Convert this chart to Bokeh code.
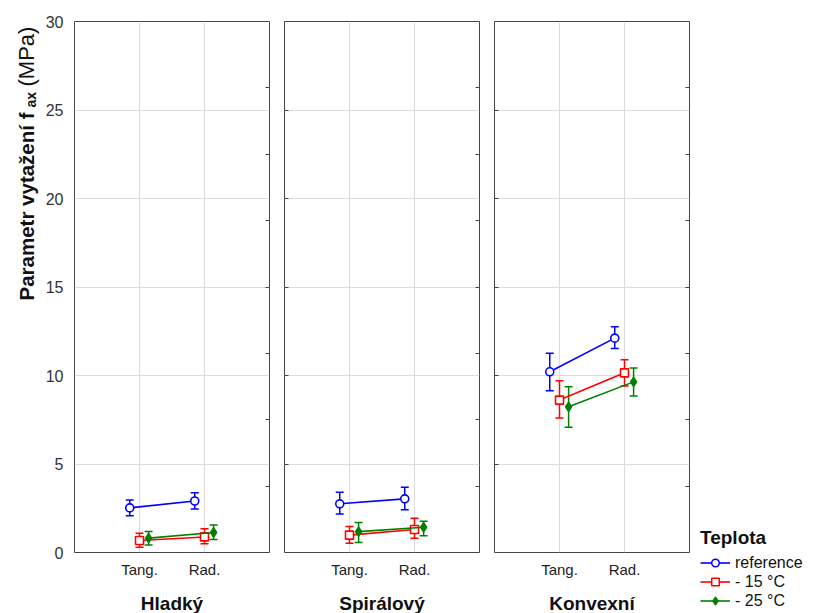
import math
from bokeh.plotting import figure
from bokeh.models import (FixedTicker, LinearAxis, Whisker, TeeHead, ColumnDataSource,
                          Label, Legend, LegendItem, Range1d)
from bokeh.layouts import row
from bokeh.embed import file_html
from bokeh.resources import INLINE

# ---------------- data ----------------
panels = ["Hladký", "Spirálový", "Konvexní"]
orient = ["Tang.", "Rad."]
series = ["reference", "- 15 °C", "- 25 °C"]

ref_mean = [[2.52, 2.91], [2.75, 3.03], [10.21, 12.11]]
ref_low = [[2.07, 2.46], [2.18, 2.41], [9.14, 11.52]]
ref_high = [[2.97, 3.37], [3.40, 3.68], [11.26, 12.76]]

m15_mean = [[0.68, 0.88], [0.98, 1.30], [8.61, 10.15]]
m15_low = [[0.30, 0.49], [0.52, 0.80], [7.60, 9.40]]
m15_high = [[1.09, 1.34], [1.47, 1.93], [9.70, 10.89]]

m25_mean = [[0.81, 1.13], [1.18, 1.43], [8.23, 9.64]]
m25_low = [[0.43, 0.73], [0.56, 0.94], [7.07, 8.84]]
m25_high = [[1.18, 1.56], [1.69, 1.77], [9.36, 10.42]]

y_ticks = [0, 5, 10, 15, 20, 25, 30]
y_inner_ticks = [5, 10, 15, 20, 25]
right_ticks = [3.75, 7.5, 11.25, 15, 18.75, 22.5, 26.25]

# ---------------- styles ----------------
FONT = "Liberation Sans"
colors = ["#0000ff", "#ff0000", "#008000"]
markers = ["circle", "square", "diamond"]
fills = ["white", "white", "#008000"]
msizes = [8, 8, 9]
offsets = [-0.15, 0.0, 0.14]
means = [ref_mean, m15_mean, m25_mean]
lows = [ref_low, m15_low, m25_low]
highs = [ref_high, m15_high, m25_high]

H = 612
TOP = 21
FH = 531
BOT = H - TOP - FH
SIDE_FH = H - TOP  # side figures: frame from TOP to bottom of page
YLAB_W = 42


def hidden_label_axis(axis):
    axis.major_label_text_font_size = "0px"
    axis.major_label_text_color = None
    axis.major_label_text_alpha = 0
    axis.major_label_standoff = 0


# narrow figure holding the y-axis title (frame bottom = page y H)
ylab = figure(frame_width=YLAB_W, frame_height=SIDE_FH, x_range=Range1d(0, 1), y_range=Range1d(0, 1),
              output_backend="svg", toolbar_location=None, min_border=0, min_border_top=TOP,
              x_axis_location=None, y_axis_location=None)
ylab.outline_line_color = None
ylab.grid.visible = False
ylab.add_layout(Label(x=26, y=H - 300, x_units="screen", y_units="screen", text="Parametr vytažení f",
                      angle=math.pi / 2, text_align="left", text_baseline="middle",
                      text_font=FONT, text_font_size="20.5px", text_font_style="bold",
                      text_color="#111111"))
ylab.add_layout(Label(x=30, y=H - 107, x_units="screen", y_units="screen", text="ax",
                      angle=math.pi / 2, text_align="left", text_baseline="middle",
                      text_font=FONT, text_font_size="14px", text_font_style="bold",
                      text_color="#111111"))
ylab.add_layout(Label(x=26, y=H - 86, x_units="screen", y_units="screen", text="(MPa)",
                      angle=math.pi / 2, text_align="left", text_baseline="middle",
                      text_font=FONT, text_font_size="22px", text_color="#111111"))

figs = []
for i, pname in enumerate(panels):
    left = 74 - YLAB_W if i == 0 else 7
    right = 8
    p = figure(frame_width=195, frame_height=FH, x_range=Range1d(0, 3), y_range=Range1d(0, 30),
               output_backend="svg", toolbar_location=None,
               min_border_left=left, min_border_right=right, min_border_top=TOP, min_border_bottom=BOT)
    p.background_fill_color = "white"
    p.border_fill_color = "white"
    p.outline_line_color = "#444444"
    p.outline_line_width = 1

    p.xgrid.ticker = FixedTicker(ticks=[1, 2])
    p.ygrid.ticker = FixedTicker(ticks=y_inner_ticks)
    p.xgrid.grid_line_color = "#dcdcdc"
    p.ygrid.grid_line_color = "#dcdcdc"

    xa = p.xaxis[0]
    xa.ticker = FixedTicker(ticks=[1, 2])
    xa.major_label_overrides = {1: orient[0], 2: orient[1]}
    xa.major_tick_line_color = None
    xa.major_tick_out = 0
    xa.major_tick_in = 0
    xa.minor_tick_line_color = None
    xa.minor_tick_out = 0
    xa.axis_line_color = None
    xa.major_label_text_font = FONT
    xa.major_label_text_font_size = "15px"
    xa.major_label_text_color = "#222222"
    xa.major_label_standoff = 8
    xa.axis_label = pname
    xa.axis_label_text_font = FONT
    xa.axis_label_text_font_style = "bold"
    xa.axis_label_text_font_size = "19px"
    xa.axis_label_text_color = "#111111"
    xa.axis_label_standoff = 12

    ya = p.yaxis[0]
    ya.minor_tick_line_color = None
    ya.axis_line_color = None
    if i == 0:
        ya.ticker = FixedTicker(ticks=y_ticks)
        ya.major_tick_line_color = None
        ya.major_tick_out = 0
        ya.minor_tick_out = 0
        ya.major_label_text_font = FONT
        ya.major_label_text_font_size = "16px"
        ya.major_label_text_color = "#333333"
        ya.major_label_standoff = 11
    else:
        ya.ticker = FixedTicker(ticks=y_inner_ticks)
        ya.major_tick_in = 4
        ya.major_tick_out = 0
        ya.minor_tick_out = 0
        ya.major_tick_line_color = "#444444"
        hidden_label_axis(ya)

    ra = LinearAxis(ticker=FixedTicker(ticks=right_ticks), major_tick_in=4, major_tick_out=0,
                    major_tick_line_color="#444444", minor_tick_line_color=None, minor_tick_out=0,
                    axis_line_color=None)
    hidden_label_axis(ra)
    p.add_layout(ra, "right")

    for s in range(len(series)):
        xs = [1 + offsets[s], 2 + offsets[s]]
        src = ColumnDataSource(dict(x=xs, y=means[s][i], lower=lows[s][i], upper=highs[s][i]))
        p.line("x", "y", source=src, line_color=colors[s], line_width=1.6)
        p.add_layout(Whisker(source=src, base="x", upper="upper", lower="lower",
                             line_color=colors[s], line_width=1.5,
                             upper_head=TeeHead(size=8, line_color=colors[s], line_width=1.5),
                             lower_head=TeeHead(size=8, line_color=colors[s], line_width=1.5)))
        p.scatter("x", "y", source=src, marker=markers[s], size=msizes[s],
                  line_color=colors[s], fill_color=fills[s], line_width=1.6)
    figs.append(p)

# legend figure (own frame so nothing is clipped); frame bottom = page y H
lg = figure(frame_width=112, frame_height=SIDE_FH, x_range=Range1d(0, 1), y_range=Range1d(0, 1),
            output_backend="svg", toolbar_location=None, min_border=0, min_border_top=TOP,
            x_axis_location=None, y_axis_location=None)
lg.outline_line_color = None
lg.grid.visible = False
nan = float("nan")
items = []
for s in range(len(series)):
    ln = lg.line(x=[nan, nan], y=[nan, nan], line_color=colors[s], line_width=1.6)
    sc = lg.scatter(x=[nan], y=[nan], marker=markers[s], size=msizes[s] - 1, line_color=colors[s],
                    fill_color=fills[s], line_width=1.5)
    items.append(LegendItem(label=series[s], renderers=[ln, sc]))
legend = Legend(items=items, location=(3, 2), title="Teplota",
                title_text_font=FONT, title_text_font_style="bold", title_text_font_size="19px",
                title_text_color="#111111", title_standoff=4,
                label_text_font=FONT, label_text_font_size="16px", label_text_color="#111111",
                glyph_width=30, glyph_height=19, label_height=19, label_standoff=5, spacing=0,
                padding=0, margin=0, border_line_color=None, background_fill_alpha=0)
lg.add_layout(legend)

layout = row(ylab, *figs, lg, spacing=0)
open("out.html", "w").write(file_html(layout, INLINE))
